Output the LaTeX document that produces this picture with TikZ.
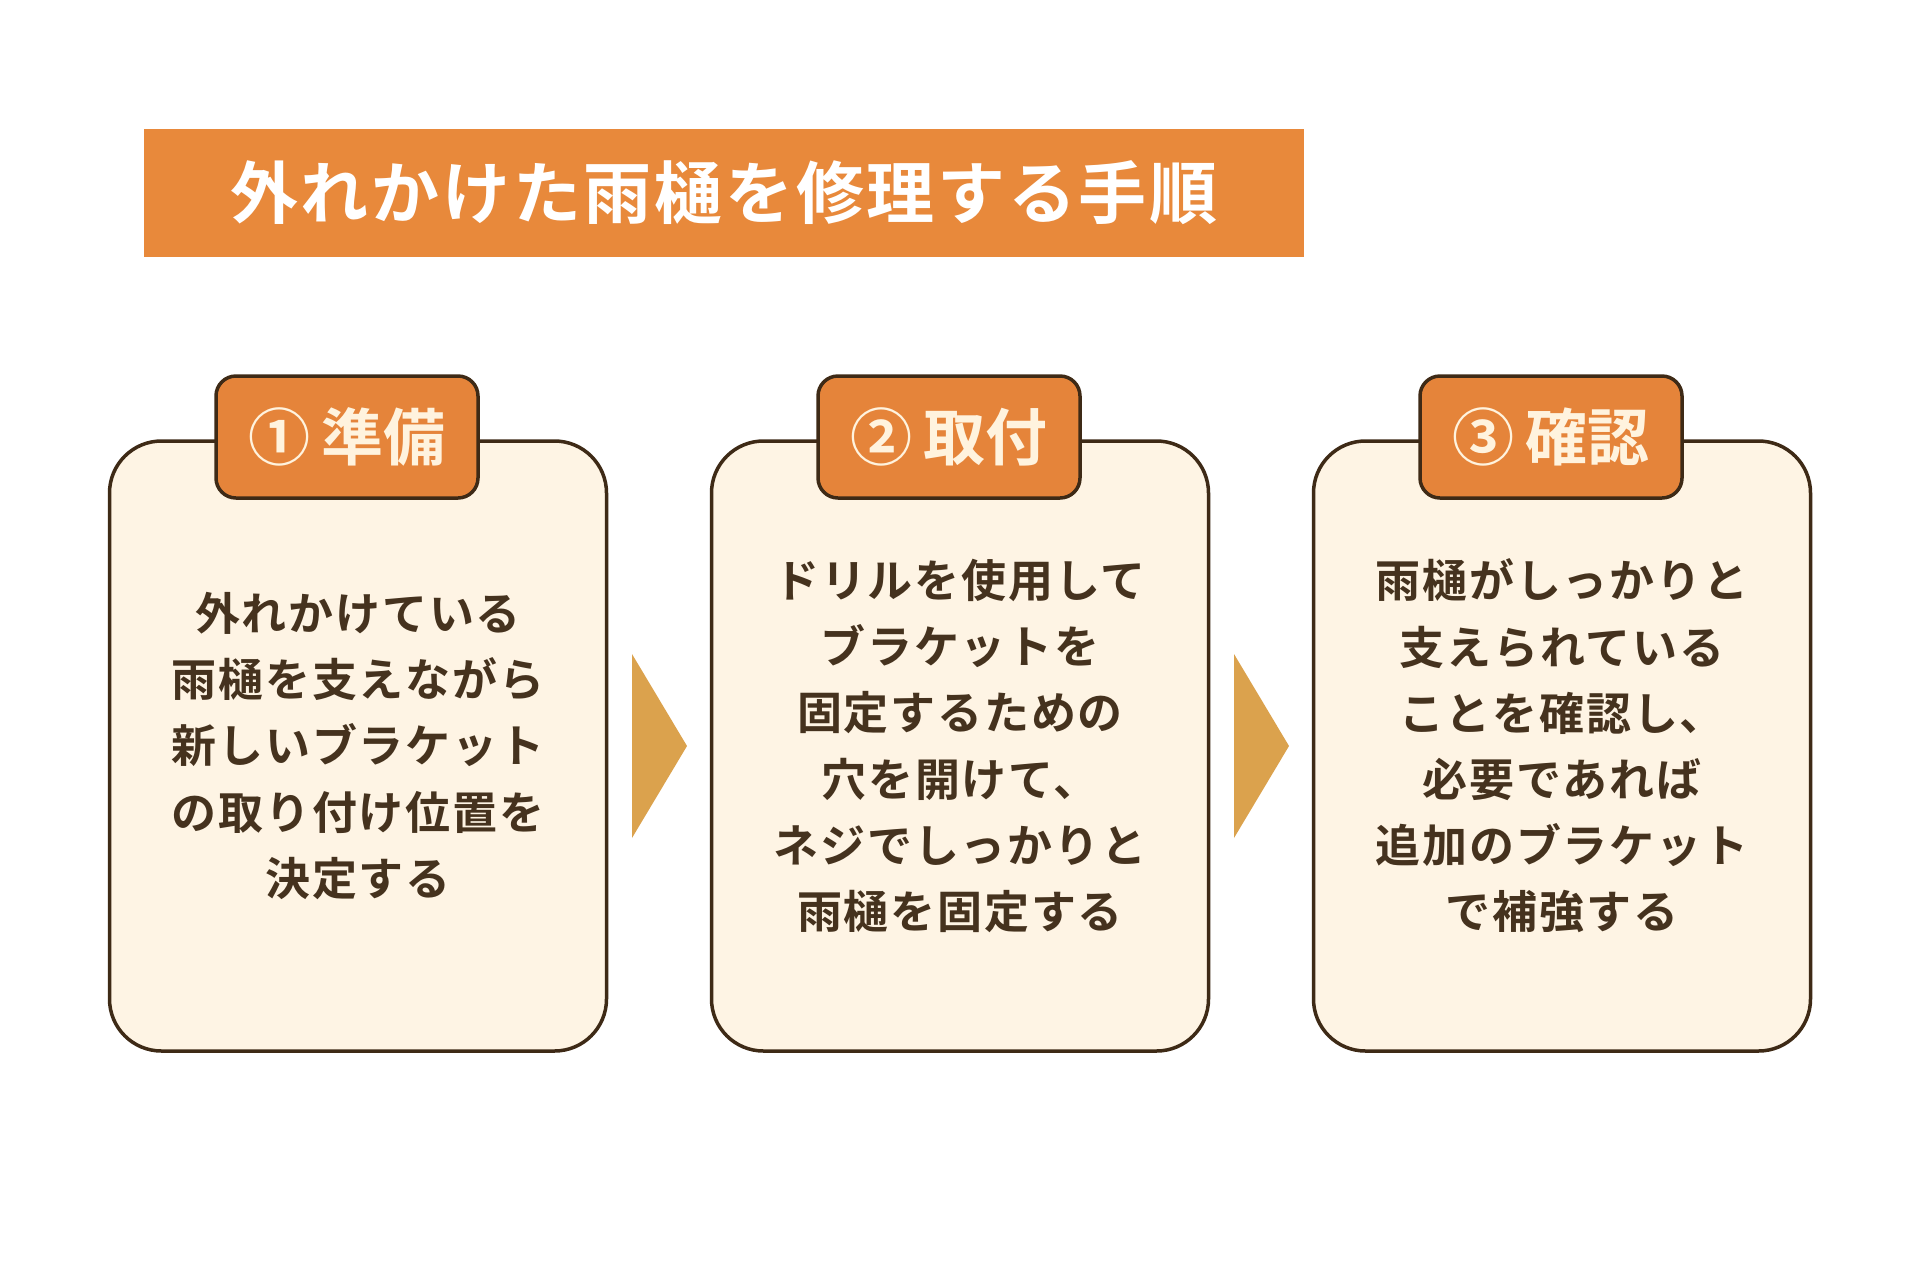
\documentclass[tikz,border=0pt]{standalone}
\usepackage{fontspec}
\newfontfamily\jp{Noto Sans CJK JP}[BoldFont={Noto Sans CJK JP Bold}]
\definecolor{titlebg}{HTML}{E8893B}
\definecolor{tabbg}{HTML}{E5843A}
\definecolor{boxbg}{HTML}{FEF4E4}
\definecolor{edge}{HTML}{3E2A16}
\definecolor{txt}{HTML}{45321E}
\definecolor{cream}{HTML}{FFF3DE}
\definecolor{arrowc}{HTML}{DBA24D}
\begin{document}
\begin{tikzpicture}[x=1pt,y=-1pt,
  stepbox/.style={draw=edge, line width=3.5pt, fill=boxbg, rounded corners=52pt,
    minimum width=497pt, minimum height=610pt, inner sep=0pt},
  tabbox/.style={draw=edge, line width=3.5pt, fill=tabbg, rounded corners=20pt,
    minimum width=262pt, minimum height=122pt, inner sep=0pt,
    text=cream, font=\jp\bfseries\fontsize{62}{70}\selectfont},
  bodytext/.style={text=txt, align=center, inner sep=0pt,
    font=\jp\bfseries\fontsize{45}{66.2}\selectfont\addfontfeatures{LetterSpace=4}},
  chev/.style={fill=arrowc, draw=none}
]
\useasboundingbox (0,0) rectangle (1920,1278);
\fill[white] (0,0) rectangle (1920,1278);

% title
\node[fill=titlebg, minimum width=1160pt, minimum height=128pt, inner sep=0pt,
  text=white, font=\jp\bfseries\fontsize{68}{80}\selectfont\addfontfeatures{LetterSpace=4}]
  (title) at (724,193) {外れかけた雨樋を修理する手順};

% boxes
\node[stepbox] (b1) at (358,746) {};
\node[stepbox] (b2) at (960,746) {};
\node[stepbox] (b3) at (1562,746) {};

% tabs
\node[tabbox] (t1) at (347,437) {①\hspace{12pt}準備};
\node[tabbox] (t2) at (949,437) {②\hspace{12pt}取付};
\node[tabbox] (t3) at (1551,437) {③\hspace{12pt}確認};

% body texts
\node[bodytext] (x1) at (b1.center) {外れかけている\\雨樋を支えながら\\新しいブラケット\\の取り付け位置を\\決定する};
\node[bodytext] (x2) at (b2.center) {ドリルを使用して\\ブラケットを\\固定するための\\穴を開けて、\\ネジでしっかりと\\雨樋を固定する};
\node[bodytext] (x3) at (b3.center) {雨樋がしっかりと\\支えられている\\ことを確認し、\\必要であれば\\追加のブラケット\\で補強する};

% chevrons
\coordinate (a1) at (632,654);
\coordinate (a2) at (1234,654);
\fill[chev] (a1) -- ++(55,92) -- ++(-55,92) -- cycle;
\fill[chev] (a2) -- ++(55,92) -- ++(-55,92) -- cycle;
\end{tikzpicture}
\end{document}
